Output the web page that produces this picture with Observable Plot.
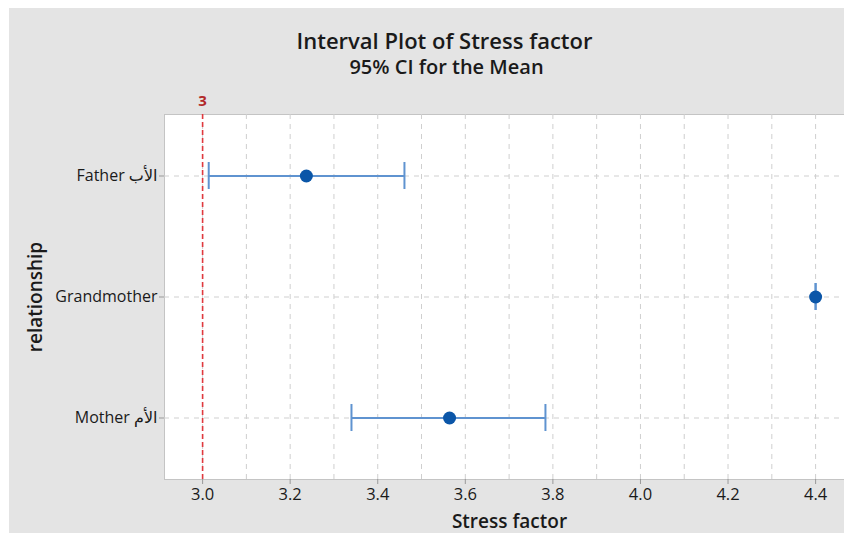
<!DOCTYPE html>
<html>
<head>
<meta charset="utf-8">
<script src="https://cdn.jsdelivr.net/npm/d3@7"></script>
<script src="https://cdn.jsdelivr.net/npm/@observablehq/plot@0.6"></script>
<style>
  html, body { margin: 0; padding: 0; background: #ffffff; }
  #chart { position: absolute; left: 9px; top: 8px; }
  #chart svg { background: #e4e4e4; display: block; }
</style>
</head>
<body>
<div id="chart"></div>
<script>
const categories = ["Father الأب", "Grandmother", "Mother الأم"];
const means = [3.237, 4.40, 3.564];
const lowers = [3.014, 4.40, 3.340];
const uppers = [3.461, 4.40, 3.783];
const xTicks = [3.0, 3.2, 3.4, 3.6, 3.8, 4.0, 4.2, 4.4];
const gridTicks = [3.0, 3.1, 3.2, 3.3, 3.4, 3.5, 3.6, 3.7, 3.8, 3.9, 4.0, 4.1, 4.2, 4.3, 4.4];
const refValue = 3;
const titleText = "Interval Plot of Stress factor";
const subtitleText = "95% CI for the Mean";
const xLabel = "Stress factor";
const yLabel = "relationship";

const rows = categories.map((c, i) => ({cat: c, mean: means[i], lo: lowers[i], hi: uppers[i]}));
const font = "'Open Sans', 'DejaVu Sans', sans-serif";

const plot = Plot.plot({
  width: 835,
  height: 525,
  marginLeft: 155,
  marginRight: 0,
  marginTop: 106,
  marginBottom: 54,
  style: {fontFamily: font, fontSize: "14px", background: "#e4e4e4", color: "#222"},
  x: {domain: [2.913, 4.466]},
  y: {type: "band", domain: categories, paddingInner: 0.778, paddingOuter: 0.391},
  marks: [
    Plot.frame({fill: "white", stroke: "#c4c4c4"}),
    Plot.gridX(gridTicks, {stroke: "#cfcfcf", strokeOpacity: 1, strokeDasharray: "5,5"}),
    Plot.gridY({stroke: "#cfcfcf", strokeOpacity: 1, strokeDasharray: "5,5"}),
    Plot.ruleX([refValue], {stroke: "#e0393e", strokeWidth: 1.6, strokeDasharray: "5,3"}),
    Plot.text([refValue], {x: d => d, frameAnchor: "top", lineAnchor: "middle", dy: -13, text: d => String(d), fill: "#b22a2a", fontWeight: "bold", fontSize: 15}),
    Plot.axisX(xTicks, {tickSize: 5, tickPadding: 4, fontSize: 16.5, stroke: "#999", fill: "#1a1a1a", label: null, tickFormat: d3.format(".1f")}),
    Plot.axisY({tickSize: 5, tickPadding: 2, fontSize: 16, stroke: "#999", fill: "#1a1a1a", label: null}),
    Plot.ruleY(rows, {y: "cat", x1: "lo", x2: "hi", stroke: "#5f93d0", strokeWidth: 2}),
    Plot.tickX(rows, {x: "lo", y: "cat", stroke: "#5f93d0", strokeWidth: 2}),
    Plot.tickX(rows, {x: "hi", y: "cat", stroke: "#5f93d0", strokeWidth: 2}),
    Plot.dot(rows, {x: "mean", y: "cat", r: 6.5, fill: "#0b56a8", stroke: "none"}),
    Plot.text([titleText], {frameAnchor: "top", lineAnchor: "middle", dx: -60, dy: -73, text: d => d, fontSize: 22, fontWeight: 600, fill: "#1a1a1a"}),
    Plot.text([subtitleText], {frameAnchor: "top", lineAnchor: "middle", dx: -58, dy: -47, text: d => d, fontSize: 20, fontWeight: 600, fill: "#1a1a1a"}),
    Plot.text([xLabel], {frameAnchor: "bottom", lineAnchor: "middle", dx: 5, dy: 42, text: d => d, fontSize: 19, fontWeight: 600, fill: "#1a1a1a"}),
    Plot.text([yLabel], {frameAnchor: "left", lineAnchor: "middle", dx: -129, rotate: -90, textAnchor: "middle", text: d => d, fontSize: 19, fontWeight: 600, fill: "#1a1a1a"})
  ]
});
document.getElementById("chart").appendChild(plot);
</script>
</body>
</html>
